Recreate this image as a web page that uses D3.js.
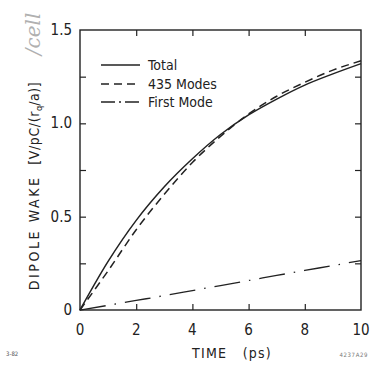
<!DOCTYPE html>
<html><head><meta charset="utf-8">
<script src="https://cdn.jsdelivr.net/npm/d3@7"></script>
<style>body{margin:0;background:#fff}svg{display:block}</style>
</head><body>
<script>
const times = [0,1,2,3,4,5,6,7,8,9,10];
const totalWake = [0,0.26,0.48,0.66,0.81,0.94,1.045,1.13,1.205,1.265,1.32];
const modes435 = [0,0.21,0.43,0.62,0.79,0.93,1.05,1.145,1.22,1.285,1.335];
const firstMode = [0,0.025,0.051,0.077,0.104,0.131,0.158,0.185,0.212,0.238,0.265];
const seriesNames = ["Total","435 Modes","First Mode"];
const xTickLabels = [0,2,4,6,8,10];
const yTickLabels = [0,0.5,1.0,1.5];

const W=374,H=367;
const svg=d3.select("body").append("svg").attr("width",W).attr("height",H);
const x=d3.scaleLinear().domain([0,10]).range([80,361]);
const y=d3.scaleLinear().domain([0,1.5]).range([310,30]);
const ink="#222";
const font="'DejaVu Sans Condensed', 'Liberation Sans', Arial, sans-serif";

// frame
svg.append("rect").attr("x",x(0)).attr("y",y(1.5)).attr("width",x(10)-x(0)).attr("height",y(0)-y(1.5))
  .attr("fill","none").attr("stroke",ink).attr("stroke-width",1.4);

const xt=[2,4,6,8], yt=[0.25,0.5,0.75,1.0,1.25];
const ax=(g)=>g.selectAll(".domain").remove();
svg.append("g").attr("transform",`translate(0,${y(0)})`)
  .call(d3.axisBottom(x).tickValues(xt).tickSize(-6).tickFormat("")).call(ax)
  .selectAll("line").attr("stroke",ink).attr("stroke-width",1.2);
svg.append("g").attr("transform",`translate(0,${y(1.5)})`)
  .call(d3.axisTop(x).tickValues(xt).tickSize(-6).tickFormat("")).call(ax)
  .selectAll("line").attr("stroke",ink).attr("stroke-width",1.2);
svg.append("g").attr("transform",`translate(${x(0)},0)`)
  .call(d3.axisLeft(y).tickValues(yt).tickSize(-6).tickFormat("")).call(ax)
  .selectAll("line").attr("stroke",ink).attr("stroke-width",1.2);
svg.append("g").attr("transform",`translate(${x(10)},0)`)
  .call(d3.axisRight(y).tickValues(yt).tickSize(-6).tickFormat("")).call(ax)
  .selectAll("line").attr("stroke",ink).attr("stroke-width",1.2);

// tick labels
svg.append("g").selectAll("text").data(xTickLabels).join("text")
  .attr("x",d=>x(d)).attr("y",335).attr("text-anchor","middle")
  .attr("font-family",font).attr("font-size",15).attr("fill",ink).text(d=>d);
svg.append("g").selectAll("text").data(yTickLabels).join("text")
  .attr("x",72).attr("y",d=>y(d)+5).attr("text-anchor","end")
  .attr("font-family",font).attr("font-size",15).attr("fill",ink).text(d=>d===0?"0":d.toFixed(1));

// axis titles
svg.append("text").attr("x",232).attr("y",358).attr("text-anchor","middle")
  .attr("font-family",font).attr("font-size",14).attr("letter-spacing",1.2).attr("fill",ink)
  .attr("xml:space","preserve").text("TIME   (ps)");
const yl=svg.append("text").attr("transform","translate(39,186) rotate(-90)").attr("text-anchor","middle")
  .attr("font-family",font).attr("font-size",14).attr("fill",ink);
yl.append("tspan").attr("letter-spacing",2.6).text("DIPOLE WAKE ");
yl.append("tspan").attr("dx",4).attr("letter-spacing",0.6).text("[V/pC/(r");
yl.append("tspan").attr("font-size",9).attr("dy",3).text("q");
yl.append("tspan").attr("dy",-3).attr("letter-spacing",0.6).text("/a)]");
svg.append("text").attr("transform","translate(40,34) rotate(-90)").attr("text-anchor","middle")
  .attr("font-family","'DejaVu Serif', serif").attr("font-style","italic").attr("font-size",20)
  .attr("fill","#b0b0b0").text("/cell");

svg.append("text").attr("x",6).attr("y",356).attr("font-family",font).attr("font-size",6).attr("fill","#555").text("3-82");
svg.append("text").attr("x",368).attr("y",357).attr("text-anchor","end").attr("font-family",font).attr("font-size",6).attr("letter-spacing",0.6).attr("fill","#777").text("4237A29");

// curves
const line=(vals)=>d3.line().x((d,i)=>x(times[i])).y(d=>y(d)).curve(d3.curveMonotoneX)(vals);
const dashes=[null,"8,5","26,9,1.5,9"];
const data=[totalWake,modes435,firstMode];
svg.append("g").selectAll("path").data(data).join("path")
  .attr("d",d=>line(d)).attr("fill","none").attr("stroke",ink).attr("stroke-width",(d,i)=>i===2?1.3:1.5)
  .attr("stroke-dasharray",(d,i)=>dashes[i]);

// legend
const ly=[65,84,102];
const lg=svg.append("g");
seriesNames.forEach((n,i)=>{
  lg.append("line").attr("x1",101).attr("x2",140).attr("y1",ly[i]).attr("y2",ly[i])
    .attr("stroke",ink).attr("stroke-width",1.5).attr("stroke-dasharray",i===0?null:(i===1?"8,5":"14,4,2,4"));
  lg.append("text").attr("x",148).attr("y",ly[i]+5).attr("font-family",font).attr("font-size",14)
    .attr("fill",ink).text(n);
});
</script>
</body></html>
